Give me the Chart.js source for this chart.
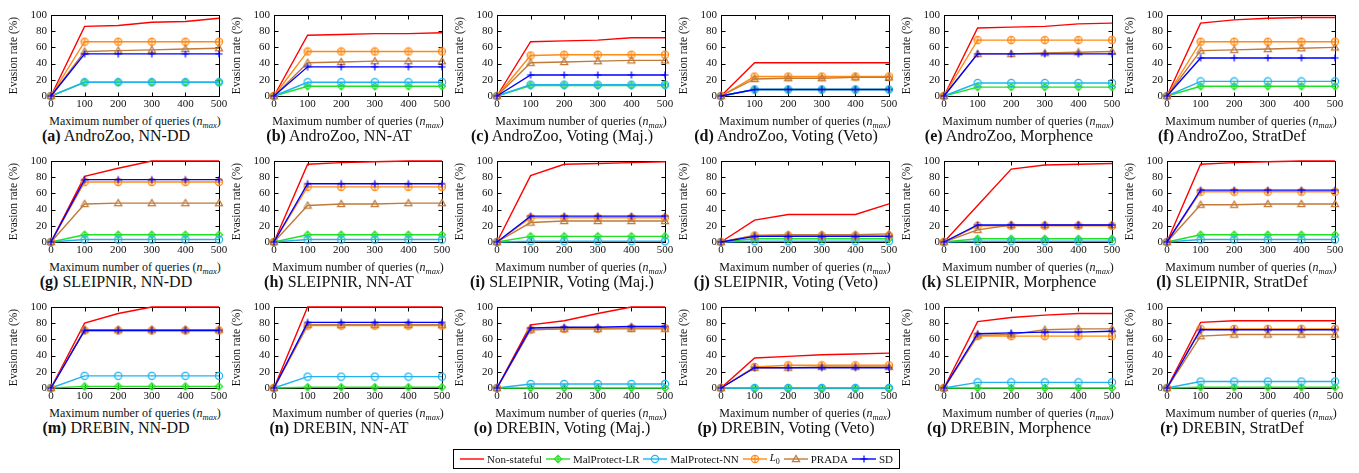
<!DOCTYPE html>
<html lang="en">
<head>
<meta charset="UTF-8">
<title>Evasion rate vs. maximum number of queries</title>
<script src="https://cdn.jsdelivr.net/npm/chart.js"></script>
<style>
  body { margin: 0; background: #fff; font-family: "Liberation Serif", serif; color: #111; }
  #fig { position: relative; width: 1359px; height: 473px; overflow: hidden; }
  canvas.panel { position: absolute; }
  .xtitle { position: absolute; font-size: 12px; white-space: nowrap; transform: translateX(-50%); }
  .caption { position: absolute; font-size: 16px; white-space: nowrap; transform: translateX(-50%); }
  #legend { position: absolute; left: 453px; top: 449px; width: 447px; height: 20px; border: 1px solid #000;
            box-sizing: border-box; display: flex; align-items: center; justify-content: space-between;
            padding: 0 6px; font-size: 11px; white-space: nowrap; }
  #legend span.item { display: flex; align-items: center; white-space: nowrap; }
  #legend canvas { margin-right: 3px; }
</style>
</head>
<body>
<div id="fig"></div>
<script>
// x values (maximum number of queries)
const queries = [0, 100, 200, 300, 400, 500];

const panelLetters = ['a','b','c','d','e','f','g','h','i','j','k','l','m','n','o','p','q','r'];
const panelTitles = [
  'AndroZoo, NN-DD', 'AndroZoo, NN-AT', 'AndroZoo, Voting (Maj.)', 'AndroZoo, Voting (Veto)', 'AndroZoo, Morphence', 'AndroZoo, StratDef',
  'SLEIPNIR, NN-DD', 'SLEIPNIR, NN-AT', 'SLEIPNIR, Voting (Maj.)', 'SLEIPNIR, Voting (Veto)', 'SLEIPNIR, Morphence', 'SLEIPNIR, StratDef',
  'DREBIN, NN-DD', 'DREBIN, NN-AT', 'DREBIN, Voting (Maj.)', 'DREBIN, Voting (Veto)', 'DREBIN, Morphence', 'DREBIN, StratDef'
];

// evasion rate (%) per panel, one row per panel a..r
const nonStateful = [
  [0, 86, 87, 91, 92, 96], [0, 75, 76, 77, 77, 78], [0, 67, 68, 69, 72, 72],
  [0, 41, 41, 41, 41, 41], [0, 84, 85, 86, 89, 90], [0, 90, 94, 96, 97, 97],
  [0, 81, 91, 100, 100, 100], [0, 96, 98, 99, 100, 100], [0, 82, 96, 97, 98, 99],
  [0, 27, 34, 34, 34, 47], [0, 45, 90, 95, 96, 97], [0, 96, 98, 99, 100, 100],
  [0, 80, 92, 100, 100, 100], [0, 100, 100, 100, 100, 100], [0, 78, 83, 92, 100, 100],
  [0, 37, 39, 41, 42, 43], [0, 82, 87, 90, 92, 92], [0, 81, 83, 83, 83, 83]
];
const malProtectLR = [
  [0, 17, 17, 17, 17, 17], [0, 12, 12, 12, 12, 12], [0, 13, 13, 13, 13, 13],
  [0, 8, 8, 8, 8, 8], [0, 11, 11, 11, 11, 11], [0, 12, 12, 12, 12, 12],
  [0, 9, 9, 9, 9, 9], [0, 9, 9, 9, 9, 9], [0, 7, 7, 7, 7, 7],
  [0, 4, 4, 4, 4, 4], [0, 4, 4, 4, 4, 4], [0, 9, 9, 9, 9, 9],
  [0, 2, 2, 2, 2, 2], [0, 1, 1, 1, 1, 1], [0, 0, 0, 0, 0, 0],
  [0, 0, 0, 0, 0, 0], [0, 0, 0, 0, 0, 0], [0, 1, 1, 1, 1, 1]
];
const malProtectNN = [
  [0, 17, 17, 17, 17, 17], [0, 17, 17, 17, 17, 17], [0, 14, 14, 14, 14, 14],
  [0, 8, 8, 8, 8, 8], [0, 16, 16, 16, 16, 16], [0, 18, 18, 18, 18, 18],
  [0, 3, 3, 3, 3, 3], [0, 3, 3, 3, 3, 3], [0, 1, 1, 1, 1, 1],
  [0, 1, 1, 1, 1, 1], [0, 1, 1, 1, 1, 1], [0, 3, 3, 3, 3, 3],
  [0, 15, 15, 15, 15, 15], [0, 14, 14, 14, 14, 14], [0, 5, 5, 5, 5, 5],
  [0, 0, 0, 0, 0, 0], [0, 7, 7, 7, 7, 7], [0, 8, 8, 8, 8, 8]
];
const l0Attack = [
  [0, 67, 67, 67, 67, 67], [0, 55, 55, 55, 55, 55], [0, 50, 51, 51, 51, 51],
  [0, 24, 24, 24, 24, 24], [0, 69, 69, 69, 69, 69], [0, 67, 67, 67, 67, 67],
  [0, 74, 74, 74, 74, 74], [0, 68, 68, 68, 68, 68], [0, 30, 30, 30, 30, 30],
  [0, 8, 8, 8, 8, 8], [0, 20, 20, 20, 20, 20], [0, 62, 62, 62, 62, 62],
  [0, 71, 71, 71, 71, 71], [0, 77, 77, 77, 77, 77], [0, 72, 73, 73, 74, 74],
  [0, 26, 28, 28, 28, 28], [0, 64, 64, 64, 64, 64], [0, 73, 73, 73, 73, 73]
];
const prada = [
  [0, 55, 56, 57, 58, 59], [0, 41, 42, 43, 43, 43], [0, 41, 42, 43, 44, 44],
  [0, 21, 22, 22, 23, 23], [0, 52, 52, 53, 54, 55], [0, 56, 57, 58, 59, 60],
  [0, 47, 48, 48, 48, 48], [0, 45, 47, 47, 48, 48], [0, 24, 26, 26, 26, 26],
  [0, 8, 9, 9, 9, 10], [0, 15, 21, 21, 21, 21], [0, 46, 46, 47, 47, 47],
  [0, 72, 72, 72, 72, 72], [0, 78, 78, 78, 78, 78], [0, 72, 73, 73, 73, 73],
  [0, 25, 25, 26, 26, 26], [0, 65, 66, 72, 73, 73], [0, 64, 66, 66, 66, 66]
];
const sd = [
  [0, 52, 52, 52, 52, 52], [0, 36, 36, 36, 36, 36], [0, 26, 26, 26, 26, 26],
  [0, 8, 8, 8, 8, 8], [0, 52, 52, 52, 52, 52], [0, 47, 47, 47, 47, 47],
  [0, 77, 77, 77, 77, 77], [0, 72, 72, 72, 72, 72], [0, 32, 32, 32, 32, 32],
  [0, 7, 7, 7, 7, 7], [0, 21, 21, 21, 21, 21], [0, 64, 64, 64, 64, 64],
  [0, 71, 71, 71, 71, 71], [0, 81, 81, 81, 81, 81], [0, 74, 75, 75, 76, 76],
  [0, 25, 25, 25, 25, 25], [0, 67, 68, 69, 69, 70], [0, 72, 72, 72, 72, 72]
];

const series = [
  { name: 'Non-stateful',  html: 'Non-stateful',  values: nonStateful,  color: '#ff0000', marker: null },
  { name: 'MalProtect-LR', html: 'MalProtect-LR', values: malProtectLR, color: '#22e022', marker: 'diamond' },
  { name: 'MalProtect-NN', html: 'MalProtect-NN', values: malProtectNN, color: '#1fb4f0', marker: 'circle' },
  { name: 'L0',            html: '<i>L</i><sub style="font-size:8px">0</sub>', values: l0Attack, color: '#ff8a14', marker: 'oplus' },
  { name: 'PRADA',         html: 'PRADA',         values: prada,        color: '#c07a3a', marker: 'triangle' },
  { name: 'SD',            html: 'SD',            values: sd,           color: '#0000ff', marker: 'plus' }
];

const FONT = "'Liberation Serif', 'DejaVu Serif', serif";
Chart.defaults.font.family = FONT;
Chart.defaults.font.size = 11;
Chart.defaults.color = '#111';

function drawMarker(ctx, kind, cx, cy, color) {
  const r = 3.6;
  ctx.strokeStyle = color;
  ctx.lineWidth = 1.2;
  ctx.beginPath();
  if (kind === 'diamond') {
    ctx.moveTo(cx, cy - r); ctx.lineTo(cx + r, cy); ctx.lineTo(cx, cy + r); ctx.lineTo(cx - r, cy); ctx.closePath();
    ctx.moveTo(cx, cy - r); ctx.lineTo(cx, cy + r);
  } else if (kind === 'circle') {
    ctx.arc(cx, cy, r, 0, Math.PI * 2);
  } else if (kind === 'oplus') {
    ctx.arc(cx, cy, r, 0, Math.PI * 2);
    ctx.moveTo(cx - r, cy); ctx.lineTo(cx + r, cy);
    ctx.moveTo(cx, cy - r); ctx.lineTo(cx, cy + r);
  } else if (kind === 'triangle') {
    ctx.moveTo(cx, cy - r); ctx.lineTo(cx + r, cy + r * 0.75); ctx.lineTo(cx - r, cy + r * 0.75); ctx.closePath();
  } else if (kind === 'plus') {
    ctx.moveTo(cx - r, cy); ctx.lineTo(cx + r, cy);
    ctx.moveTo(cx, cy - r); ctx.lineTo(cx, cy + r);
  }
  ctx.stroke();
}

function markerCanvas(kind, color) {
  const c = document.createElement('canvas');
  c.width = 10; c.height = 10;
  drawMarker(c.getContext('2d'), kind, 5, 5, color);
  return c;
}

// box around plot area with inward ticks on all four sides (gnuplot style)
const framePlugin = {
  id: 'frame',
  beforeDatasetsDraw(chart) {
    const { ctx, chartArea: a, scales: { x, y } } = chart;
    const L = Math.round(a.left) + 0.5, R = Math.round(a.right) + 0.5;
    const T = Math.round(a.top) + 0.5, B = Math.round(a.bottom) + 0.5;
    ctx.save();
    ctx.strokeStyle = '#000';
    ctx.lineWidth = 1;
    ctx.strokeRect(L, T, R - L, B - T);
    ctx.beginPath();
    x.ticks.forEach(t => {
      const px = Math.round(x.getPixelForValue(t.value)) + 0.5;
      ctx.moveTo(px, B); ctx.lineTo(px, B - 4);
      ctx.moveTo(px, T); ctx.lineTo(px, T + 4);
    });
    y.ticks.forEach(t => {
      const py = Math.round(y.getPixelForValue(t.value)) + 0.5;
      ctx.moveTo(L, py); ctx.lineTo(L + 4, py);
      ctx.moveTo(R, py); ctx.lineTo(R - 4, py);
    });
    ctx.stroke();
    ctx.restore();
  }
};

const fig = document.getElementById('fig');
const COL_PITCH = 223.2, ROW_PITCH = 145.8;
const CW = 232, CH = 112;

panelTitles.forEach((title, p) => {
  const col = p % 6, row = Math.floor(p / 6);
  const left = Math.round(col * COL_PITCH), top = Math.round(row * ROW_PITCH);

  const cv = document.createElement('canvas');
  cv.className = 'panel';
  cv.width = CW; cv.height = CH;
  cv.style.left = left + 'px'; cv.style.top = top + 'px';
  fig.appendChild(cv);

  const xt = document.createElement('div');
  xt.className = 'xtitle';
  xt.style.left = (left + 135) + 'px'; xt.style.top = (top + 114) + 'px';
  xt.innerHTML = 'Maximum number of queries (<i>n</i><sub style="font-size:8.5px"><i>max</i></sub>)';
  fig.appendChild(xt);

  const cap = document.createElement('div');
  cap.className = 'caption';
  cap.style.left = (left + 116) + 'px'; cap.style.top = (top + 127) + 'px';
  cap.innerHTML = '<b>(' + panelLetters[p] + ')</b> ' + title;
  fig.appendChild(cap);

  const datasets = series.map((s, k) => ({
    label: s.name,
    data: queries.map((q, j) => ({ x: q, y: s.values[p][j] })),
    borderColor: s.color,
    backgroundColor: s.color,
    borderWidth: 1.4,
    pointStyle: s.marker ? markerCanvas(s.marker, s.color) : false,
    pointRadius: s.marker ? 4 : 0,
    order: series.length - k,
    tension: 0,
    clip: false
  }));

  new Chart(cv.getContext('2d'), {
    type: 'line',
    data: { datasets },
    options: {
      responsive: false,
      animation: false,
      events: [],
      layout: { padding: { top: 15, right: CW - 219, left: 0, bottom: 0 } },
      plugins: { legend: { display: false }, tooltip: { enabled: false } },
      scales: {
        x: {
          type: 'linear', min: 0, max: 500,
          grid: { display: false, drawTicks: false }, border: { display: false },
          ticks: { stepSize: 100, padding: 2, maxRotation: 0, font: { family: FONT, size: 11 } },
          afterFit(s) { s.height = CH - 96; s.paddingLeft = 0; s.paddingRight = 0; }
        },
        y: {
          min: 0, max: 100,
          grid: { display: false, drawTicks: false }, border: { display: false },
          ticks: { stepSize: 20, padding: 4, font: { family: FONT, size: 11 } },
          title: { display: true, text: 'Evasion rate (%)', padding: { top: 7, bottom: 0 }, font: { family: FONT, size: 11.5 } },
          afterFit(s) { s.width = 51; s.paddingTop = 0; s.paddingBottom = 0; }
        }
      }
    },
    plugins: [framePlugin]
  });
});

// shared legend
const legend = document.createElement('div');
legend.id = 'legend';
series.forEach(s => {
  const item = document.createElement('span');
  item.className = 'item';
  const c = document.createElement('canvas');
  c.width = 24; c.height = 12;
  const ctx = c.getContext('2d');
  ctx.strokeStyle = s.color; ctx.lineWidth = 1.4;
  ctx.beginPath(); ctx.moveTo(0, 6); ctx.lineTo(24, 6); ctx.stroke();
  if (s.marker) drawMarker(ctx, s.marker, 12, 6, s.color);
  item.appendChild(c);
  const t = document.createElement('span');
  t.innerHTML = s.html;
  item.appendChild(t);
  legend.appendChild(item);
});
fig.appendChild(legend);
</script>
</body>
</html>
